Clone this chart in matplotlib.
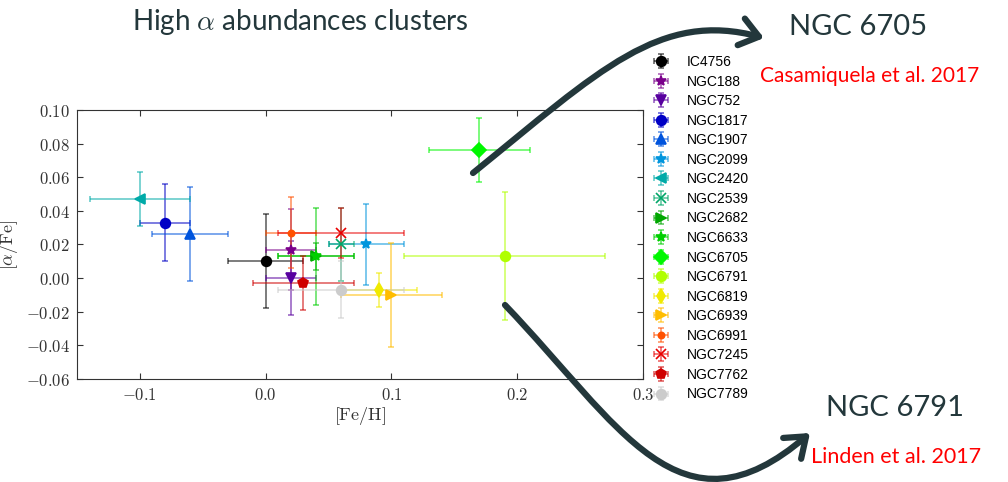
import numpy as np
import matplotlib
matplotlib.use('Agg')
import matplotlib.pyplot as plt
from matplotlib.path import Path
from matplotlib.patches import FancyArrowPatch
from matplotlib.ticker import FuncFormatter

plt.rcParams['mathtext.fontset'] = 'cm'

# cluster data: [Fe/H], [alpha/Fe] and their errors
clusters = ['IC4756', 'NGC188', 'NGC752', 'NGC1817', 'NGC1907', 'NGC2099',
            'NGC2420', 'NGC2539', 'NGC2682', 'NGC6633', 'NGC6705', 'NGC6791',
            'NGC6819', 'NGC6939', 'NGC6991', 'NGC7245', 'NGC7762', 'NGC7789']
feh = [0.00, 0.02, 0.02, -0.08, -0.06, 0.08, -0.10, 0.06, 0.04, 0.04, 0.17, 0.19,
       0.09, 0.10, 0.02, 0.06, 0.03, 0.06]
feh_err = [0.03, 0.02, 0.02, 0.02, 0.03, 0.03, 0.04, 0.01, 0.03, 0.03, 0.04, 0.08,
           0.03, 0.04, 0.02, 0.05, 0.04, 0.05]
alpha = [0.010, 0.017, 0.000, 0.033, 0.026, 0.020, 0.047, 0.020, 0.013, 0.013,
         0.076, 0.013, -0.007, -0.010, 0.027, 0.027, -0.003, -0.007]
alpha_err = [0.028, 0.024, 0.022, 0.023, 0.028, 0.024, 0.016, 0.022, 0.008, 0.029,
             0.019, 0.038, 0.010, 0.031, 0.021, 0.015, 0.016, 0.017]
markers = ['o', '*', 'v', 'o', '^', '*', '<', 'x', '>', '*', 'D', 'o',
           'd', '>', '.', 'x', 'p', 'o']

slate = '#23373b'

fig = plt.figure(figsize=(10.08, 4.82), dpi=100)
ax = fig.add_axes([0.0764, 0.2137, 0.5615, 0.5581])

colors = plt.cm.nipy_spectral(np.linspace(0, 1, len(clusters)))

for i, name in enumerate(clusters):
    c = colors[i]
    ec = (c[0], c[1], c[2], 0.6)
    ax.errorbar(feh[i], alpha[i], xerr=feh_err[i], yerr=alpha_err[i],
                fmt=markers[i], color=c, mec=c, ecolor=ec, ms=7 if markers[i] != '.' else 9,
                mew=1.2, elinewidth=1.2, capsize=2.5, capthick=1.2, label=name)

ax.set_xlim(-0.15, 0.3)
ax.set_ylim(-0.06, 0.10)
ax.set_xticks([-0.1, 0.0, 0.1, 0.2, 0.3])
ax.set_yticks(np.arange(-0.06, 0.101, 0.02))
ax.xaxis.set_major_formatter(FuncFormatter(lambda v, p: r'$%.1f$' % (v + 0.0)))
ax.yaxis.set_major_formatter(FuncFormatter(lambda v, p: r'$%.2f$' % (v + 0.0)))
ax.tick_params(direction='in', top=True, right=True, length=4, labelsize=12,
               colors='#333333', pad=5)
for s in ax.spines.values():
    s.set_color('#333333')
ax.set_xlabel(r'$[\mathrm{Fe/H}]$', fontsize=13, color='#333333', labelpad=1)
ax.set_ylabel(r'$[\alpha/\mathrm{Fe}]$', fontsize=13, color='#333333', labelpad=4)

leg = ax.legend(loc='upper left', bbox_to_anchor=(0.649, 0.886),
                bbox_transform=fig.transFigure, frameon=False, numpoints=1,
                handlelength=1.0, handletextpad=1.35, labelspacing=0.4,
                borderpad=0, borderaxespad=0,
                prop={'family': 'Liberation Sans', 'size': 10})

# slide text
fig.text(0.298, 0.955, r'High $\alpha$ abundances clusters', ha='center', va='center',
         fontsize=20, color=slate, family='Lato')
fig.text(0.851, 0.945, 'NGC 6705', ha='center', va='center', fontsize=21,
         color=slate, family='Lato')
fig.text(0.863, 0.843, 'Casamiquela et al. 2017', ha='center', va='center',
         fontsize=15, color='#ff0000', family='Lato')
fig.text(0.888, 0.154, 'NGC 6791', ha='center', va='center', fontsize=21,
         color=slate, family='Lato')
fig.text(0.889, 0.051, 'Linden et al. 2017', ha='center', va='center',
         fontsize=15.5, color='#ff0000', family='Lato')

# curved arrows (pixel positions of the slide)
W, H = 1008.0, 482.0


def arrow(pts):
    verts = [(x / W, 1 - y / H) for x, y in pts]
    path = Path(verts, [Path.MOVETO, Path.CURVE4, Path.CURVE4, Path.CURVE4])
    a = FancyArrowPatch(path=path, arrowstyle='->,head_length=0.6,head_width=0.45',
                        mutation_scale=22, lw=4.5, color=slate,
                        transform=fig.transFigure, zorder=10)
    fig.add_artist(a)


arrow([(473, 173), (600, 70), (660, 10), (764, 38)])
arrow([(505, 305), (620, 425), (680, 545), (810, 433)])

fig.savefig('out.png', dpi=100)
